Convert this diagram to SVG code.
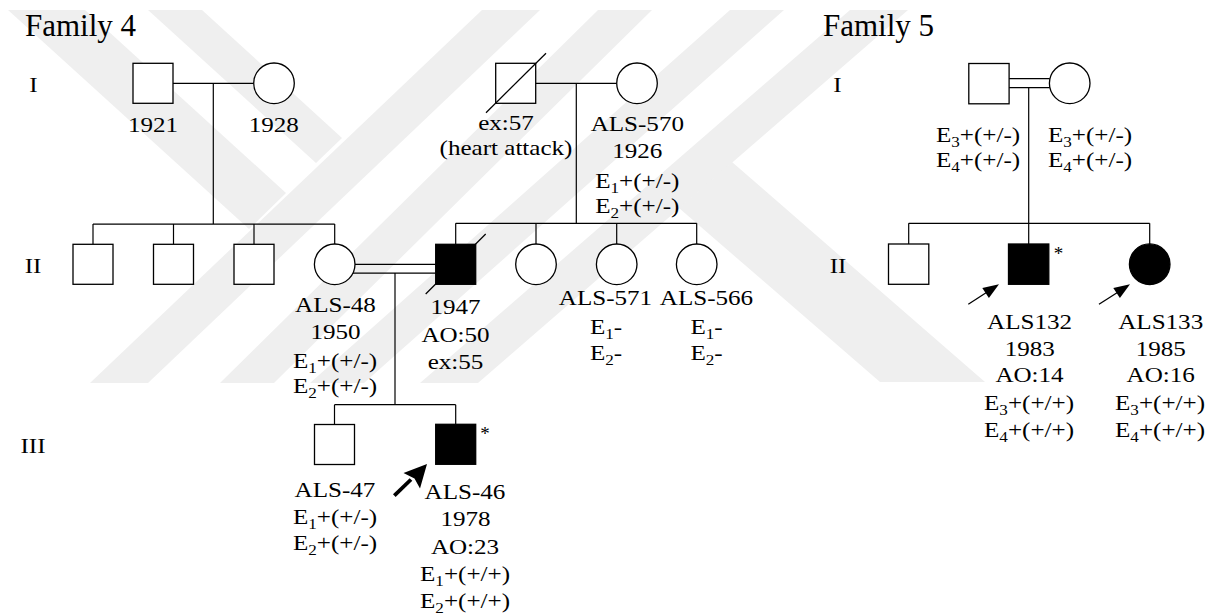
<svg xmlns="http://www.w3.org/2000/svg" width="1217" height="614" viewBox="0 0 1217 614">
<style>
.wm{fill:#efefef;stroke:none}
.sh{fill:#fff;stroke:#000;stroke-width:1.3}
.aff{fill:#000;stroke:#000;stroke-width:1.3}
.ln{fill:none;stroke:#000;stroke-width:1.25}
.dl{fill:none;stroke:#000;stroke-width:1.2}
.t{font-family:"Liberation Serif","Times New Roman",serif;font-size:22px;fill:#000;text-anchor:middle}
.title{font-family:"Liberation Serif","Times New Roman",serif;font-size:31px;fill:#000}
.sub{font-size:15px}
.ast{font-family:"Liberation Serif","Times New Roman",serif;font-size:19px;fill:#000;text-anchor:middle}
</style>
<rect width="1217" height="614" fill="#fff"/>
<g id="watermark">
<polygon class="wm" points="8,10 85,10 286,193 249,229"/>
<polygon class="wm" points="148,10 202,10 342,138 316,163"/>
<polygon class="wm" points="482,10 540,10 148,383 90,383"/>
<polygon class="wm" points="598,10 652,10 274,383 220,383"/>
<polygon class="wm" points="730,10 784,10 364,383 310,383"/>
<polygon class="wm" points="850,10 908,10 478,383 420,383"/>
<polygon class="wm" points="732,162 985,382 880,382 679,208"/>
</g>
<g id="labels">
<text class="title" x="25" y="36">Family 4</text>
<text class="title" x="823" y="36">Family 5</text>
<text class="t" transform="translate(33.5,92) scale(1.14,1)">I</text>
<text class="t" transform="translate(33,273) scale(1.14,1)">II</text>
<text class="t" transform="translate(33,453) scale(1.14,1)">III</text>
<text class="t" transform="translate(837.5,92) scale(1.14,1)">I</text>
<text class="t" transform="translate(838,273) scale(1.14,1)">II</text>
</g>
<g id="connectors">
<line class="ln" x1="173" y1="83.3" x2="253.7" y2="83.3"/>
<line class="dl" x1="213.3" y1="83.3" x2="213.3" y2="224"/>
<line class="ln" x1="93" y1="224" x2="334.7" y2="224"/>
<line class="dl" x1="93" y1="224" x2="93" y2="244.3"/>
<line class="dl" x1="173.5" y1="224" x2="173.5" y2="244.3"/>
<line class="dl" x1="254" y1="224" x2="254" y2="244.3"/>
<line class="dl" x1="334.7" y1="224" x2="334.7" y2="244"/>
<line class="ln" x1="535.7" y1="83.3" x2="616.7" y2="83.3"/>
<line class="dl" x1="576.3" y1="83.3" x2="576.3" y2="223.3"/>
<line class="ln" x1="455.7" y1="223.3" x2="696.7" y2="223.3"/>
<line class="dl" x1="455.7" y1="223.3" x2="455.7" y2="244.3"/>
<line class="dl" x1="536" y1="223.3" x2="536" y2="244"/>
<line class="dl" x1="616.7" y1="223.3" x2="616.7" y2="244"/>
<line class="dl" x1="696.7" y1="223.3" x2="696.7" y2="244"/>
<line class="ln" x1="355" y1="264.3" x2="435.7" y2="264.3"/>
<line class="ln" x1="353" y1="273" x2="435.7" y2="273"/>
<line class="dl" x1="395" y1="273" x2="395" y2="404.7"/>
<line class="ln" x1="334.5" y1="404.7" x2="455.7" y2="404.7"/>
<line class="dl" x1="334.5" y1="404.7" x2="334.5" y2="424.5"/>
<line class="dl" x1="455.7" y1="404.7" x2="455.7" y2="424.3"/>
<line class="ln" x1="1009" y1="78.7" x2="1049.7" y2="78.7"/>
<line class="ln" x1="1009" y1="87.7" x2="1050" y2="87.7"/>
<line class="dl" x1="1028.7" y1="87.7" x2="1028.7" y2="223.3"/>
<line class="ln" x1="908.7" y1="223.3" x2="1149.7" y2="223.3"/>
<line class="dl" x1="908.7" y1="223.3" x2="908.7" y2="244"/>
<line class="dl" x1="1028.7" y1="223.3" x2="1028.7" y2="244"/>
<line class="dl" x1="1149.7" y1="223.3" x2="1149.7" y2="244"/>
</g>
<g id="f4-I-1">
<rect class="sh" x="133" y="63.3" width="40" height="40"/>
<text class="t" transform="translate(153,132) scale(1.14,1)">1921</text>
</g>
<g id="f4-I-2">
<circle class="sh" cx="274" cy="83.3" r="20.3"/>
<text class="t" transform="translate(273.7,132) scale(1.14,1)">1928</text>
</g>
<g id="f4-I-3">
<rect class="sh" x="495.7" y="63.3" width="40" height="40"/>
<line class="ln" x1="486" y1="112.7" x2="546" y2="53.3"/>
<text class="t" transform="translate(506,129.5) scale(1.14,1)">ex:57</text>
<text class="t" transform="translate(506,154.5) scale(1.14,1)">(heart attack)</text>
</g>
<g id="f4-I-4">
<circle class="sh" cx="637" cy="83.3" r="20.3"/>
<text class="t" transform="translate(637.3,130.5) scale(1.14,1)">ALS-570</text>
<text class="t" transform="translate(637.3,157.5) scale(1.14,1)">1926</text>
<text class="t" transform="translate(637.3,187.5) scale(1.14,1)">E<tspan class="sub" dy="5">1</tspan><tspan dy="-5">+(+/-)</tspan></text>
<text class="t" transform="translate(637.3,212.5) scale(1.14,1)">E<tspan class="sub" dy="5">2</tspan><tspan dy="-5">+(+/-)</tspan></text>
</g>
<g id="f4-II-1"><rect class="sh" x="73" y="244.3" width="40" height="40"/></g>
<g id="f4-II-2"><rect class="sh" x="153.5" y="244.3" width="40" height="40"/></g>
<g id="f4-II-3"><rect class="sh" x="234" y="244.3" width="40" height="40"/></g>
<g id="f4-II-4">
<circle class="sh" cx="334.7" cy="264.3" r="20.3"/>
<text class="t" transform="translate(335.5,311.5) scale(1.14,1)">ALS-48</text>
<text class="t" transform="translate(335.5,339) scale(1.14,1)">1950</text>
<text class="t" transform="translate(335,367.5) scale(1.14,1)">E<tspan class="sub" dy="5">1</tspan><tspan dy="-5">+(+/-)</tspan></text>
<text class="t" transform="translate(335,392.5) scale(1.14,1)">E<tspan class="sub" dy="5">2</tspan><tspan dy="-5">+(+/-)</tspan></text>
</g>
<g id="f4-II-5">
<rect class="aff" x="435.7" y="244.3" width="40" height="40"/>
<line class="ln" x1="425.7" y1="294" x2="485.7" y2="234"/>
<text class="t" transform="translate(455.5,313.5) scale(1.14,1)">1947</text>
<text class="t" transform="translate(455.5,342) scale(1.14,1)">AO:50</text>
<text class="t" transform="translate(455.5,369) scale(1.14,1)">ex:55</text>
</g>
<g id="f4-II-6"><circle class="sh" cx="536" cy="264.3" r="20.3"/></g>
<g id="f4-II-7">
<circle class="sh" cx="616.7" cy="264.3" r="20.3"/>
<text class="t" transform="translate(605.5,305) scale(1.14,1)">ALS-571</text>
<text class="t" transform="translate(606,334) scale(1.14,1)">E<tspan class="sub" dy="5">1</tspan><tspan dy="-5">-</tspan></text>
<text class="t" transform="translate(606,360) scale(1.14,1)">E<tspan class="sub" dy="5">2</tspan><tspan dy="-5">-</tspan></text>
</g>
<g id="f4-II-8">
<circle class="sh" cx="696.7" cy="264.3" r="20.3"/>
<text class="t" transform="translate(706.5,305) scale(1.14,1)">ALS-566</text>
<text class="t" transform="translate(706.5,334) scale(1.14,1)">E<tspan class="sub" dy="5">1</tspan><tspan dy="-5">-</tspan></text>
<text class="t" transform="translate(706.5,360) scale(1.14,1)">E<tspan class="sub" dy="5">2</tspan><tspan dy="-5">-</tspan></text>
</g>
<g id="f4-III-1">
<rect class="sh" x="314.5" y="424.5" width="40" height="40"/>
<text class="t" transform="translate(335,497) scale(1.14,1)">ALS-47</text>
<text class="t" transform="translate(335,524) scale(1.14,1)">E<tspan class="sub" dy="5">1</tspan><tspan dy="-5">+(+/-)</tspan></text>
<text class="t" transform="translate(335,550) scale(1.14,1)">E<tspan class="sub" dy="5">2</tspan><tspan dy="-5">+(+/-)</tspan></text>
</g>
<g id="f4-III-2">
<rect class="aff" x="435.7" y="424.3" width="40" height="40"/>
<text class="ast" x="485" y="440">*</text>
<line x1="394.3" y1="495.7" x2="411" y2="479.5" stroke="#000" stroke-width="3.8"/>
<polygon points="427,464 420,488.5 414.5,478.5 403.5,473" fill="#000"/>
<text class="t" transform="translate(465,498.5) scale(1.14,1)">ALS-46</text>
<text class="t" transform="translate(465.5,526.3) scale(1.14,1)">1978</text>
<text class="t" transform="translate(465,553.7) scale(1.14,1)">AO:23</text>
<text class="t" transform="translate(465,581) scale(1.14,1)">E<tspan class="sub" dy="5">1</tspan><tspan dy="-5">+(+/+)</tspan></text>
<text class="t" transform="translate(465,607.5) scale(1.14,1)">E<tspan class="sub" dy="5">2</tspan><tspan dy="-5">+(+/+)</tspan></text>
</g>
<g id="f5-I-1">
<rect class="sh" x="968.8" y="63.5" width="40.3" height="40.3"/>
<text class="t" transform="translate(978,142) scale(1.14,1)">E<tspan class="sub" dy="5">3</tspan><tspan dy="-5">+(+/-)</tspan></text>
<text class="t" transform="translate(978,166.5) scale(1.14,1)">E<tspan class="sub" dy="5">4</tspan><tspan dy="-5">+(+/-)</tspan></text>
</g>
<g id="f5-I-2">
<circle class="sh" cx="1069.7" cy="83.3" r="20.3"/>
<text class="t" transform="translate(1090,142) scale(1.14,1)">E<tspan class="sub" dy="5">3</tspan><tspan dy="-5">+(+/-)</tspan></text>
<text class="t" transform="translate(1090,166.5) scale(1.14,1)">E<tspan class="sub" dy="5">4</tspan><tspan dy="-5">+(+/-)</tspan></text>
</g>
<g id="f5-II-1"><rect class="sh" x="888.5" y="244" width="40.3" height="40.3"/></g>
<g id="f5-II-2">
<rect class="aff" x="1008.5" y="244" width="40.3" height="40.3"/>
<text class="ast" x="1058.5" y="260">*</text>
<line x1="968.3" y1="304.3" x2="988" y2="291.5" stroke="#000" stroke-width="1.3"/>
<polygon points="999,284.3 988.9,298 982.3,288" fill="#000"/>
<text class="t" transform="translate(1029.5,328.6) scale(1.14,1)">ALS132</text>
<text class="t" transform="translate(1029.8,355.5) scale(1.14,1)">1983</text>
<text class="t" transform="translate(1029.5,382.3) scale(1.14,1)">AO:14</text>
<text class="t" transform="translate(1029,410) scale(1.14,1)">E<tspan class="sub" dy="5">3</tspan><tspan dy="-5">+(+/+)</tspan></text>
<text class="t" transform="translate(1029,436.5) scale(1.14,1)">E<tspan class="sub" dy="5">4</tspan><tspan dy="-5">+(+/+)</tspan></text>
</g>
<g id="f5-II-3">
<circle class="aff" cx="1149.7" cy="264.2" r="20.3"/>
<line x1="1099" y1="304.3" x2="1119" y2="291.5" stroke="#000" stroke-width="1.3"/>
<polygon points="1130,284.3 1119.9,298 1113.3,288" fill="#000"/>
<text class="t" transform="translate(1160.7,328.6) scale(1.14,1)">ALS133</text>
<text class="t" transform="translate(1160.7,355.5) scale(1.14,1)">1985</text>
<text class="t" transform="translate(1160.7,382.3) scale(1.14,1)">AO:16</text>
<text class="t" transform="translate(1160,410) scale(1.14,1)">E<tspan class="sub" dy="5">3</tspan><tspan dy="-5">+(+/+)</tspan></text>
<text class="t" transform="translate(1160,436.5) scale(1.14,1)">E<tspan class="sub" dy="5">4</tspan><tspan dy="-5">+(+/+)</tspan></text>
</g>
</svg>
